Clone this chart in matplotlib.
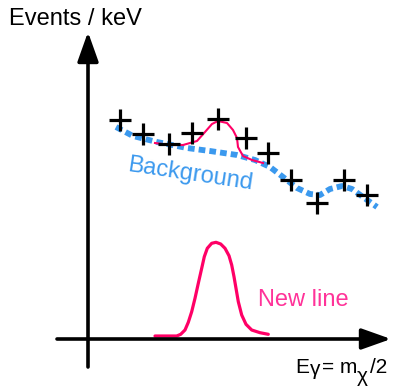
import matplotlib
matplotlib.use("Agg")
import matplotlib.pyplot as plt

plt.rcParams['font.family'] = ['Liberation Sans', 'DejaVu Sans']

# ---- data (schematic units: x = energy, y = events) ----
data_x = [120, 143, 169, 192, 218, 246, 268, 291, 317, 344, 367]
data_y = [268, 254, 244, 255, 269, 250, 235, 208, 185, 208, 193]

bkg_x = [116, 133, 157, 187, 210, 237, 255, 270, 283, 297, 310, 320, 330, 342, 352, 363, 377]
bkg_y = [261, 252, 246, 240, 237, 233, 228, 221, 211, 200, 194, 193, 199, 202, 199, 191, 181]

sigbkg_x = [155, 170, 183, 190, 197, 205, 212, 218, 227, 233, 237, 238, 243, 252, 263]
sigbkg_y = [245, 243, 243, 245, 247, 256, 264, 267, 265, 258, 250, 241, 232, 228, 225]

line_x = [155, 176.7, 180.7, 185, 188.3, 191.7, 195, 198.3, 201.7, 204.3, 207.3, 211.7,
          216, 220.7, 225, 229, 231.7, 234, 236, 238.3, 241.7, 246, 251.7, 260, 268.3]
line_y = [52, 52, 53.7, 58, 65.7, 76.3, 89.7, 104.7, 119.7, 131.3, 139.7, 144.7,
          145.7, 144, 139.7, 132.3, 123, 111.3, 99.7, 86.3, 73, 63.7, 58, 55.3, 53.7]

# axes geometry
x_axis_y = 49
x_axis_start, x_axis_tip = 57, 391
y_axis_x = 88
y_axis_start, y_axis_tip = 21, 356

blue = '#3b99ee'
red = '#ff0066'
pink = '#ff3399'

fig = plt.figure(figsize=(4.03, 3.88), dpi=100)
ax = fig.add_axes([0, 0, 1, 1])
ax.set_xlim(0, 403)
ax.set_ylim(0, 388)
ax.axis('off')

arrow_style = "-|>,head_length=0.9,head_width=0.32"
ax.annotate('', xy=(y_axis_x, y_axis_tip), xytext=(y_axis_x, y_axis_start),
            arrowprops=dict(arrowstyle=arrow_style, lw=2.6, color='black',
                            mutation_scale=20, shrinkA=0, shrinkB=0))
ax.annotate('', xy=(x_axis_tip, x_axis_y), xytext=(x_axis_start, x_axis_y),
            arrowprops=dict(arrowstyle=arrow_style, lw=2.6, color='black',
                            mutation_scale=20, shrinkA=0, shrinkB=0))

ax.plot(bkg_x, bkg_y, color=blue, lw=4.2, linestyle=(0, (1.15, 0.7)),
        solid_capstyle='butt', dash_capstyle='butt', zorder=2)
ax.plot(sigbkg_x, sigbkg_y, color=red, lw=1.5, zorder=3, solid_joinstyle='round')
ax.plot(line_x, line_y, color=red, lw=2.3, zorder=1, solid_joinstyle='round',
        solid_capstyle='round')
ax.plot(data_x, data_y, linestyle='none', marker='+', markersize=16,
        markeredgewidth=2.3, color='black', zorder=4)

fs = 17
ax.text(9, 363, 'Events / keV', fontsize=fs, ha='left', va='baseline')
# x-axis label built from pieces (subscripts shifted down)
fx = 15
ax.text(295, 15, 'E', fontsize=fx, ha='left', va='baseline')
ax.text(309.5, 13, 'γ', fontsize=fx, ha='left', va='baseline')
ax.text(321.5, 15, '= m', fontsize=fx, ha='left', va='baseline')
ax.text(357, 6, 'χ', fontsize=fx, ha='left', va='baseline')
ax.text(370.5, 15, '/2', fontsize=fx, ha='left', va='baseline')

ax.text(258, 82, 'New line', fontsize=fs, ha='left', va='baseline', color=pink)
ax.text(190, 214, 'Background', fontsize=fs, ha='center', va='center', color=blue,
        rotation=-8.5, rotation_mode='anchor')

fig.savefig('out.png', dpi=100)
